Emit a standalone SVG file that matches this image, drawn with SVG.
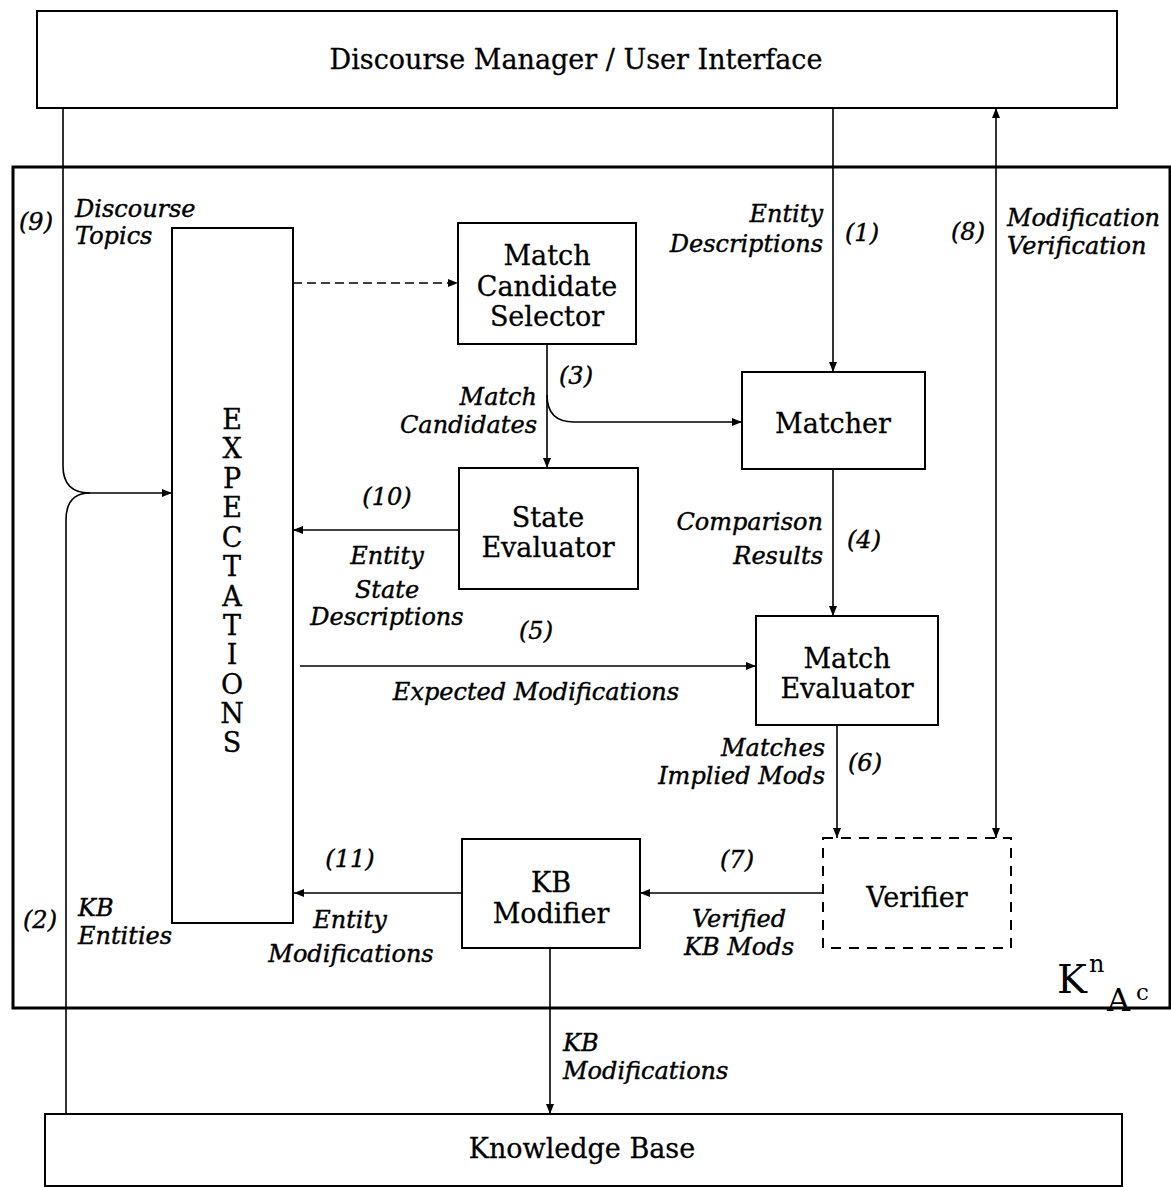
<svg xmlns="http://www.w3.org/2000/svg" width="1171" height="1187" viewBox="0 0 1171 1187">
<defs>
<marker id="ah" markerUnits="userSpaceOnUse" markerWidth="10" markerHeight="8" refX="10" refY="4" orient="auto-start-reverse">
<path d="M0,0 L10,4 L0,8 z" fill="#000"/>
</marker>
</defs>
<style>
.box{fill:#fff;stroke:#000;stroke-width:2}
.outer{fill:none;stroke:#000;stroke-width:3}
.dbox{fill:#fff;stroke:#000;stroke-width:2;stroke-dasharray:10 8}
.c{fill:none;stroke:#000;stroke-width:1.6}
.ca{fill:none;stroke:#000;stroke-width:1.6;marker-end:url(#ah)}
.t{font-family:"DejaVu Serif","Liberation Serif",serif;font-size:27px;fill:#000;stroke:#000;stroke-width:0.3;text-anchor:middle}
.i{font-family:"DejaVu Serif","Liberation Serif",serif;font-style:italic;font-size:24px;fill:#000;stroke:#000;stroke-width:0.4}
.m{text-anchor:middle}
.r{text-anchor:end}
</style>
<rect width="1171" height="1187" fill="#fff"/>

<g id="knac">
<rect class="outer" x="13" y="167" width="1157" height="841"/>
<text font-family="DejaVu Serif, Liberation Serif, serif" fill="#000"><tspan x="1057" y="993" font-size="40">K</tspan><tspan x="1089" y="972" font-size="24">n</tspan><tspan x="1107" y="1011" font-size="32">A</tspan><tspan x="1136" y="1000" font-size="23">c</tspan></text>
</g>

<g id="dm">
<rect class="box" x="37" y="11" width="1080" height="97"/>
<text class="t" x="576" y="69" font-size="27">Discourse Manager / User Interface</text>
</g>

<g id="kb">
<rect class="box" x="45" y="1114" width="1077" height="72"/>
<text class="t" x="582" y="1158" font-size="26.5">Knowledge Base</text>
</g>

<g id="expectations">
<rect class="box" x="172" y="228" width="121" height="695"/>
<text class="t" x="232" font-size="26">
<tspan x="232" y="429">E</tspan><tspan x="232" y="458">X</tspan><tspan x="232" y="488">P</tspan><tspan x="232" y="517">E</tspan><tspan x="232" y="547">C</tspan><tspan x="232" y="576">T</tspan><tspan x="232" y="606">A</tspan><tspan x="232" y="635">T</tspan><tspan x="232" y="664">I</tspan><tspan x="232" y="694">O</tspan><tspan x="232" y="723">N</tspan><tspan x="232" y="752">S</tspan>
</text>
</g>

<g id="mcs">
<rect class="box" x="458" y="223" width="178" height="121"/>
<text class="t" x="547" y="265">Match</text>
<text class="t" x="547" y="296">Candidate</text>
<text class="t" x="547" y="326">Selector</text>
</g>

<g id="matcher">
<rect class="box" x="742" y="372" width="183" height="97"/>
<text class="t" x="833" y="433">Matcher</text>
</g>

<g id="stateeval">
<rect class="box" x="459" y="468" width="179" height="121"/>
<text class="t" x="548" y="527">State</text>
<text class="t" x="548" y="557">Evaluator</text>
</g>

<g id="matcheval">
<rect class="box" x="756" y="616" width="182" height="109"/>
<text class="t" x="847" y="668">Match</text>
<text class="t" x="847" y="698">Evaluator</text>
</g>

<g id="kbmod">
<rect class="box" x="462" y="839" width="178" height="109"/>
<text class="t" x="551" y="892">KB</text>
<text class="t" x="551" y="923">Modifier</text>
</g>

<g id="verifier">
<rect class="dbox" x="823" y="838" width="188" height="110"/>
<text class="t" x="917" y="907">Verifier</text>
</g>

<g id="connectors">
<path class="c" d="M63,108 V466 Q63,493 90,493"/>
<path class="ca" d="M90,493 H172"/>
<path class="c" d="M66,1114 V520 Q66,493 90,493"/>
<path class="ca" d="M293,283 H458" stroke-dasharray="9 5"/>
<path class="ca" d="M833,108 V372"/>
<path class="ca" d="M996,838 V108" style="marker-start:url(#ah)"/>
<path class="ca" d="M547,344 V468"/>
<path class="ca" d="M547,395 Q547,422 574,422 H742"/>
<path class="ca" d="M833,469 V616"/>
<path class="ca" d="M459,530 H293"/>
<path class="ca" d="M300,666 H756"/>
<path class="ca" d="M837,725 V838"/>
<path class="ca" d="M823,893 H640"/>
<path class="ca" d="M462,893 H294"/>
<path class="ca" d="M550,948 V1114"/>

<text class="i m" x="36" y="230">(9)</text>
<text class="i" x="75" y="217">Discourse</text>
<text class="i" x="75" y="244">Topics</text>
<text class="i r" x="823" y="222">Entity</text>
<text class="i r" x="823" y="252">Descriptions</text>
<text class="i m" x="862" y="241">(1)</text>
<text class="i m" x="968" y="240">(8)</text>
<text class="i" x="1007" y="226">Modification</text>
<text class="i" x="1007" y="254">Verification</text>
<text class="i m" x="576" y="384">(3)</text>
<text class="i r" x="537" y="405">Match</text>
<text class="i r" x="537" y="433">Candidates</text>
<text class="i m" x="387" y="505">(10)</text>
<text class="i m" x="387" y="564">Entity</text>
<text class="i m" x="387" y="598">State</text>
<text class="i m" x="387" y="625">Descriptions</text>
<text class="i m" x="536" y="639">(5)</text>
<text class="i m" x="536" y="700">Expected Modifications</text>
<text class="i r" x="823" y="530">Comparison</text>
<text class="i r" x="823" y="564">Results</text>
<text class="i m" x="864" y="548">(4)</text>
<text class="i r" x="825" y="756">Matches</text>
<text class="i r" x="825" y="784">Implied Mods</text>
<text class="i m" x="865" y="771">(6)</text>
<text class="i m" x="737" y="868">(7)</text>
<text class="i m" x="739" y="927">Verified</text>
<text class="i m" x="739" y="955">KB Mods</text>
<text class="i m" x="350" y="867">(11)</text>
<text class="i m" x="350" y="928">Entity</text>
<text class="i m" x="351" y="962">Modifications</text>
<text class="i m" x="40" y="928">(2)</text>
<text class="i" x="78" y="916">KB</text>
<text class="i" x="78" y="944">Entities</text>
<text class="i" x="563" y="1051">KB</text>
<text class="i" x="563" y="1079">Modifications</text>
</g>
</svg>
